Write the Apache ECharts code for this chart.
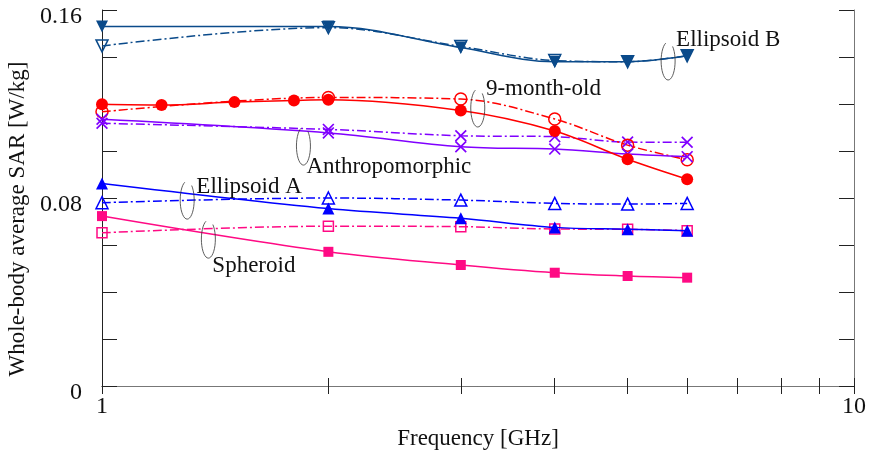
<!DOCTYPE html>
<html>
<head>
<meta charset="utf-8">
<script src="https://cdn.jsdelivr.net/npm/echarts@6/dist/echarts.min.js"></script>
<style>
  html, body { margin: 0; padding: 0; background: #fff; }
  #chart { width: 872px; height: 459px; }
</style>
</head>
<body>
<div id="chart"></div>
<script>
// frequencies [GHz]
const freqs = [1, 2, 3, 4, 5, 6];
const freqs9mo = [1, 1.2, 1.5, 1.8, 2, 3, 4, 5, 6];

// whole-body average SAR [W/kg]
const ellBSolid = [0.153, 0.153, 0.144, 0.138, 0.138, 0.1405];
const ellBDash  = [0.1447, 0.1525, 0.1445, 0.1385, 0.138, 0.1405];
const nineSolid = [0.1199, 0.1196, 0.1208, 0.1215, 0.1218, 0.1172, 0.1085, 0.0965, 0.088];
const nineDash  = [0.1167, 0.1228, 0.1221, 0.1136, 0.1025, 0.0963];
const anthSolid = [0.1135, 0.1077, 0.1018, 0.1008, 0.0987, 0.0976];
const anthDash  = [0.1118, 0.1092, 0.1065, 0.1061, 0.1038, 0.1037];
const ellASolid = [0.0862, 0.0755, 0.0714, 0.0675, 0.0667, 0.0661];
const ellADash  = [0.078, 0.080, 0.0791, 0.0777, 0.0774, 0.0777];
const sphSolid  = [0.0723, 0.0571, 0.0515, 0.0482, 0.0468, 0.0461];
const sphDash   = [0.0652, 0.068, 0.0678, 0.0668, 0.0667, 0.0661];

const xTicks = [1, 2, 3, 4, 5, 6, 7, 8, 9, 10];
const xLabels = [1, 10];
const yLabels = [0, 0.08, 0.16];

// annotation labels, placed in data coordinates [GHz, W/kg]
const notes = [
  { text: 'Ellipsoid B',     at: [5.80, 0.1472], loop: [5.66, 0.1383] },
  { text: '9-month-old',     at: [3.24, 0.1264], loop: [3.16, 0.1183] },
  { text: 'Anthropomorphic', at: [1.87, 0.0932], loop: [1.853, 0.1021] },
  { text: 'Ellipsoid A',     at: [1.335, 0.0847], loop: [1.298, 0.0791] },
  { text: 'Spheroid',        at: [1.402, 0.0511], loop: [1.385, 0.0625] }
];

const FONT = 'Liberation Serif';
const X_SYM = 'path://M0,1L1,0L5,4L9,0L10,1L6,5L10,9L9,10L5,6L1,10L0,9L4,5Z';
const DASHDOT = [9, 3, 2, 3];

function pairs(xs, ys) {
  return xs.map((x, i) => [x, ys[i]]);
}

function solid(name, xs, ys, color, symbol, size, rotate) {
  return {
    name: name, type: 'line', smooth: 0.35, data: pairs(xs, ys),
    symbol: symbol, symbolSize: size, symbolRotate: rotate || 0,
    lineStyle: { color: color, width: 1.5 },
    itemStyle: { color: color },
    z: 3
  };
}

function dashed(name, xs, ys, color, symbol, size, rotate, open) {
  return {
    name: name, type: 'line', smooth: 0.35, data: pairs(xs, ys),
    symbol: symbol, symbolSize: size, symbolRotate: rotate || 0,
    lineStyle: { color: color, width: 1.5, type: DASHDOT },
    itemStyle: open
      ? { color: 'rgba(0,0,0,0)', borderColor: color, borderWidth: 1.5 }
      : { color: color },
    z: 2
  };
}

const cB = '#0a4a8a', cN = '#ff0000', cAn = '#8000ff', cA = '#0000ff', cS = '#ff0a84';

let chart = echarts.init(document.getElementById('chart'));

const tickStyle = { color: '#222', width: 1 };
let option = {
  animation: false,
  grid: { left: 102, right: 18, top: 10, bottom: 73, outerBoundsMode: 'none', containLabel: false },
  textStyle: { fontFamily: FONT },
  xAxis: [
    {
      type: 'log', logBase: 10, min: 1, max: 10, position: 'bottom',
      name: 'Frequency [GHz]', nameLocation: 'middle', nameGap: 41,
      nameTextStyle: { fontFamily: FONT, fontSize: 23, color: '#111' },
      axisLine: { lineStyle: { color: '#222', width: 1 } },
      axisTick: { inside: true, length: 8, customValues: xTicks, lineStyle: tickStyle },
      axisLabel: { customValues: xLabels, fontFamily: FONT, fontSize: 24, color: '#111', margin: 9 },
      splitLine: { show: false }, minorTick: { show: false }
    },
    {
      type: 'log', logBase: 10, min: 1, max: 10, position: 'top',
      axisLine: { lineStyle: { color: '#777', width: 1 } },
      axisTick: { inside: true, length: 8, customValues: xTicks, lineStyle: tickStyle },
      axisLabel: { show: false },
      splitLine: { show: false }
    }
  ],
  yAxis: [
    {
      type: 'value', min: 0, max: 0.16, interval: 0.02, position: 'left',
      name: 'Whole-body average SAR [W/kg]', nameLocation: 'middle', nameGap: 68,
      nameTextStyle: { fontFamily: FONT, fontSize: 23, color: '#111', padding: [0, 42, 0, 0] },
      axisLine: { show: true, lineStyle: { color: '#222', width: 1 } },
      axisTick: { show: true, inside: true, length: 15, lineStyle: tickStyle },
      axisLabel: {
        customValues: yLabels, fontFamily: FONT, fontSize: 24, color: '#111',
        margin: 20, verticalAlign: 'top', lineHeight: 14
      },
      splitLine: { show: false }
    },
    {
      type: 'value', min: 0, max: 0.16, interval: 0.02, position: 'right',
      axisLine: { show: true, lineStyle: { color: '#777', width: 1 } },
      axisTick: { show: true, inside: true, length: 15, lineStyle: tickStyle },
      axisLabel: { show: false },
      splitLine: { show: false }
    }
  ],
  series: [
    dashed('Spheroid (dash)', freqs, sphDash, cS, 'rect', 10, 0, true),
    dashed('Ellipsoid A (dash)', freqs, ellADash, cA, 'triangle', 12, 0, true),
    solid('Ellipsoid A', freqs, ellASolid, cA, 'triangle', 12),
    solid('Spheroid', freqs, sphSolid, cS, 'rect', 10),
    dashed('Anthropomorphic (dash)', freqs, anthDash, cAn, X_SYM, 12, 0, false),
    solid('Anthropomorphic', freqs, anthSolid, cAn, X_SYM, 12),
    solid('9-month-old', freqs9mo, nineSolid, cN, 'circle', 12),
    dashed('9-month-old (dash)', freqs, nineDash, cN, 'circle', 12, 0, true),
    dashed('Ellipsoid B (dash)', freqs, ellBDash, cB, 'triangle', 12, 180, true),
    solid('Ellipsoid B', freqs, ellBSolid, cB, 'triangle', 12, 180)
  ]
};
chart.setOption(option);

// annotation text and the small open loops next to it
function loopPoints(cx, cy, a, b) {
  let pts = [];
  for (let d = -50; d <= 250; d += 10) {
    let t = d * Math.PI / 180;
    pts.push([cx + a * Math.cos(t), cy + b * Math.sin(t)]);
  }
  return pts;
}

let graphics = [];
notes.forEach(n => {
  let p = chart.convertToPixel({ xAxisIndex: 0, yAxisIndex: 0 }, n.at);
  let q = chart.convertToPixel({ xAxisIndex: 0, yAxisIndex: 0 }, n.loop);
  graphics.push({
    type: 'text', x: p[0], y: p[1],
    style: { text: n.text, font: '23px "Liberation Serif"', fill: '#111', verticalAlign: 'middle', align: 'left' },
    z: 10
  });
  graphics.push({
    type: 'polyline',
    shape: { points: loopPoints(q[0], q[1], 7, 19) },
    style: { stroke: '#333', lineWidth: 0.8, fill: null },
    z: 10
  });
});
chart.setOption({ graphic: graphics });
</script>
</body>
</html>
